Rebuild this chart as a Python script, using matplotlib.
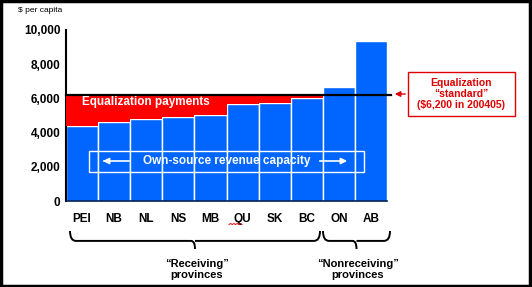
import numpy as np
import matplotlib
matplotlib.use("Agg")
import matplotlib.pyplot as plt
from matplotlib.patches import Rectangle
from matplotlib.path import Path
from matplotlib.patches import PathPatch

# data
provinces = ["PEI", "NB", "NL", "NS", "MB", "QU", "SK", "BC", "ON", "AB"]
capacity = [4400, 4600, 4780, 4930, 5010, 5650, 5710, 6000, 6650, 9350]
n_receiving = 8
standard = 6200
yticks = [0, 2000, 4000, 6000, 8000, 10000]

W, H = 532, 287
BLUE = "#0066ff"
RED = "#ff0000"

plt.rcParams['font.family'] = ['Liberation Sans', 'DejaVu Sans']

fig = plt.figure(figsize=(W / 100, H / 100), dpi=100)


def fx(px):
    return px / W


def fy(py):
    return 1 - py / H


ax = fig.add_axes([fx(66), fy(201), fx(387 - 66), (201 - 30) / H])
x = np.arange(len(provinces))
ax.bar(x, capacity, width=1.0, color=BLUE, edgecolor="white", linewidth=1.0, zorder=2)

# equalization payments (red area between capacity and standard)
recv = capacity[:n_receiving]
edges = np.arange(n_receiving + 1) - 0.5
ax.fill_between(edges, recv + [recv[-1]], standard, step="post", color=RED, linewidth=0, zorder=3)
ax.plot([-0.5, 9.62], [standard, standard], color="black", lw=1.6, zorder=4, clip_on=False)

ax.set_xlim(-0.5, 9.5)
ax.set_ylim(0, 10000)
ax.set_yticks(yticks)
ax.set_yticklabels([f"{v:,}" for v in yticks], fontsize=8.5, fontweight="bold")
ax.set_xticks(x)
ax.set_xticklabels(provinces, fontsize=8.5, fontweight="bold", va="baseline")
ax.tick_params(axis="y", length=0, pad=4)
ax.tick_params(axis="x", length=0, pad=15)
for s in ["top", "right"]:
    ax.spines[s].set_visible(False)
ax.spines["left"].set_linewidth(1.5)
ax.spines["bottom"].set_linewidth(1.2)
ax.spines["bottom"].set_color("#00205a")

ax.text(0.0, 5800, "Equalization payments", color="white", fontsize=8.5, fontweight="bold",
        va="center", ha="left", zorder=5)

# own-source revenue capacity box
ax.add_patch(Rectangle((fx(89), fy(171.5)), fx(364 - 89), (171.5 - 151) / H, transform=fig.transFigure,
                       fill=False, edgecolor="white", lw=1.0, zorder=6))
fig.text(fx(227), fy(161), "Own-source revenue capacity", color="white", fontsize=8.5,
         fontweight="bold", ha="center", va="center", zorder=7)
fig.add_artist(plt.Line2D([fx(104), fx(129)], [fy(161), fy(161)], color="white", lw=1.2))
fig.add_artist(plt.Line2D([fx(320), fx(344)], [fy(161), fy(161)], color="white", lw=1.2))
ax.annotate("", xy=(fx(100), fy(161)), xytext=(fx(112), fy(161)), xycoords="figure fraction",
            arrowprops=dict(arrowstyle="-|>", color="white", lw=1.2, mutation_scale=9))
ax.annotate("", xy=(fx(350), fy(161)), xytext=(fx(338), fy(161)), xycoords="figure fraction",
            arrowprops=dict(arrowstyle="-|>", color="white", lw=1.2, mutation_scale=9))

# standard label box with arrow
fig.add_artist(Rectangle((fx(408), fy(116)), fx(515 - 408), (116 - 72) / H, transform=fig.transFigure,
                         fill=False, edgecolor="#e00000", lw=1.0))
fig.text(fx(461.5), fy(94), "Equalization\n\u201cstandard\u201d\n($6,200 in 200405)", color="#e00000",
         fontsize=7.5, fontweight="bold", ha="center", va="center", linespacing=1.15)
ax.annotate("", xy=(fx(392), fy(94)), xytext=(fx(408), fy(94)), xycoords="figure fraction",
            arrowprops=dict(arrowstyle="-|>", color="#e00000", lw=1.0, mutation_scale=8))

fig.text(fx(18), fy(11), "$ per capita", fontsize=6, ha="left", va="center")

# spell-check squiggle under QU
qx = np.linspace(fx(229), fx(242), 9)
qy = fy(224.5) + np.array([0, 1, 0, 1, 0, 1, 0, 1, 0]) / H
fig.add_artist(plt.Line2D(qx, qy, color="#e00000", lw=0.7))


def brace(x0, x1, ytop, depth):
    # curly brace opening upward, in pixel coords
    xm = (x0 + x1) / 2
    d = depth
    h = ytop + d * 0.55
    verts = [(x0, ytop), (x0, h), (x0 + 6, h),
             (xm - 4, h), (xm, h), (xm, ytop + d),
             (xm, h), (xm + 4, h),
             (x1 - 6, h), (x1, h), (x1, ytop)]
    codes = [Path.MOVETO, Path.CURVE3, Path.CURVE3,
             Path.LINETO, Path.CURVE3, Path.CURVE3,
             Path.MOVETO, Path.CURVE3, Path.LINETO,
             Path.CURVE3, Path.CURVE3]
    verts = [(fx(vx), fy(vy)) for vx, vy in verts]
    fig.add_artist(PathPatch(Path(verts, codes), transform=fig.transFigure,
                             fill=False, edgecolor="black", lw=1.4))


brace(70, 320, 231, 18)
brace(323, 390, 231, 18)

fig.text(fx(197), fy(269.5), "\u201cReceiving\u201d\nprovinces", fontsize=8, fontweight="bold",
         ha="center", va="center", linespacing=1.1)
fig.text(fx(358), fy(269.5), "\u201cNonreceiving\u201d\nprovinces", fontsize=8, fontweight="bold",
         ha="center", va="center", linespacing=1.1)

# outer frame
fig.add_artist(Rectangle((0.002, 0.004), 0.994, 0.992, transform=fig.transFigure,
                         fill=False, edgecolor="black", lw=2.5))

fig.savefig("out.png", dpi=100)
